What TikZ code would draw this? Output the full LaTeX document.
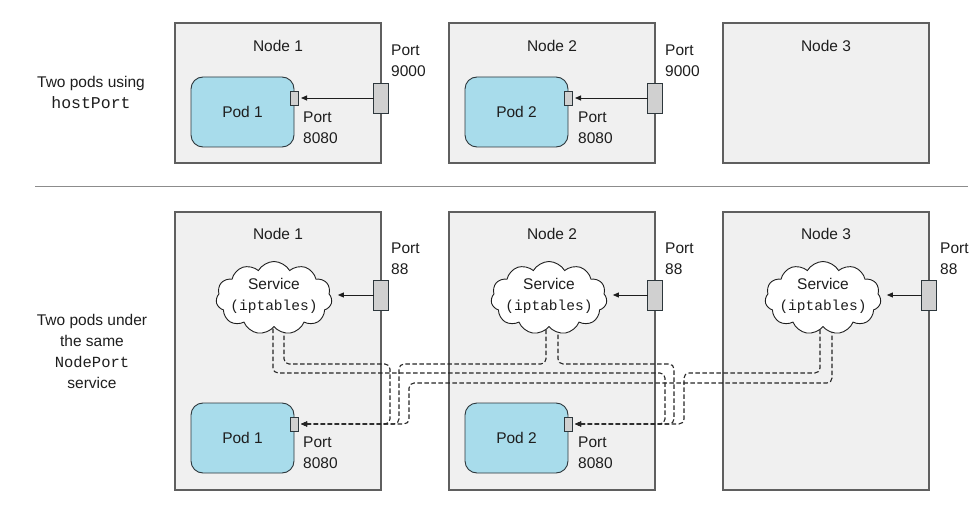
\documentclass[tikz,border=0pt]{standalone}
\usepackage{fontspec}
\setmainfont{Liberation Sans}
\setmonofont{Liberation Mono}
\usetikzlibrary{shapes.symbols,arrows.meta}
\definecolor{boxfill}{RGB}{240,240,240}
\definecolor{boxline}{RGB}{95,95,95}
\definecolor{podfill}{RGB}{168,220,235}
\definecolor{podline}{RGB}{45,55,60}
\definecolor{portfill}{RGB}{208,208,208}
\definecolor{ink}{RGB}{30,30,30}
\definecolor{rulegray}{RGB}{140,140,140}
\begin{document}
\begin{tikzpicture}[x=1pt,y=-1pt,
  every node/.style={text=ink},
  txt/.style={font=\fontsize{15.5}{21}\selectfont, inner sep=0pt, align=left},
  ctxt/.style={txt, align=center},
  nodebox/.style={draw=boxline, fill=boxfill, line width=1.1pt, inner sep=0pt, outer sep=0pt, minimum width=206pt, anchor=north west},
  topbox/.style={nodebox, minimum height=140pt},
  botbox/.style={nodebox, minimum height=278pt},
  pod/.style={draw=podline, fill=podfill, line width=0.9pt, rounded corners=12pt, minimum width=103pt, minimum height=70pt, inner sep=0pt, outer sep=0pt, anchor=north west, font=\fontsize{15.5}{21}\selectfont},
  podport/.style={draw=podline, fill=portfill, line width=0.8pt, minimum width=8pt, minimum height=14pt, inner sep=0pt, outer sep=0pt},
  hostport/.style={draw=podline, fill=portfill, line width=0.8pt, minimum width=15pt, minimum height=30pt, inner sep=0pt, outer sep=0pt},
  svc/.style={cloud, cloud puffs=11, cloud puff arc=120, cloud ignores aspect, draw=ink, fill=white, line width=0.9pt, minimum width=116pt, minimum height=73pt, inner sep=0pt},
  solidarrow/.style={draw=ink, line width=0.9pt, -{Triangle[length=6pt,width=5pt]}, shorten >=3pt},
  dashlink/.style={draw=black!85, line width=1.1pt, dash pattern=on 4.5pt off 2.5pt, rounded corners=5pt, {Triangle[length=6pt,width=5pt]}-, shorten <=3pt},
]
\useasboundingbox[fill=white] (0,0) rectangle (980,513);

% ---------- top row ----------
\node[topbox] (t1) at (175,23) {};
\node[topbox] (t2) at (449,23) {};
\node[topbox] (t3) at (723,23) {};
\node[txt] (t1l) at ([yshift=-23pt]t1.north) {Node 1};
\node[txt] (t2l) at ([yshift=-23pt]t2.north) {Node 2};
\node[txt] (t3l) at ([yshift=-23pt]t3.north) {Node 3};

\node[pod] (tp1) at (191,77) {Pod 1};
\node[pod] (tp2) at (465,77) {Pod 2};
\node[podport] (tpp1) at ([yshift=14pt]tp1.east) {};
\node[podport] (tpp2) at ([yshift=14pt]tp2.east) {};
\node[hostport] (th1) at (t1.east |- tpp1.center) {};
\node[hostport] (th2) at (t2.east |- tpp2.center) {};
\draw[solidarrow] (th1.west) -- (tpp1.east);
\draw[solidarrow] (th2.west) -- (tpp2.east);

\node[txt, anchor=north west] (th1l) at (391,44.5) {Port\\9000};
\node[txt, anchor=north west] (th2l) at (665,44.5) {Port\\9000};
\node[txt, anchor=north west] (tpp1l) at (303,111.5) {Port\\8080};
\node[txt, anchor=north west] (tpp2l) at (578,111.5) {Port\\8080};

\node[ctxt, anchor=north] (toplab) at (91,76.5) {Two pods using\\{\fontsize{16.5}{21}\selectfont\ttfamily hostPort}};

% ---------- divider ----------
\coordinate (dl) at (35,187);
\coordinate (dr) at (968,187);
\draw[rulegray, line width=1pt] (dl) -- (dr);

% ---------- bottom row ----------
\node[botbox] (b1) at (175,212) {};
\node[botbox] (b2) at (449,212) {};
\node[botbox] (b3) at (723,212) {};
\node[txt] (b1l) at ([yshift=-22pt]b1.north) {Node 1};
\node[txt] (b2l) at ([yshift=-22pt]b2.north) {Node 2};
\node[txt] (b3l) at ([yshift=-22pt]b3.north) {Node 3};

\node[pod] (bp1) at (191,403) {Pod 1};
\node[pod] (bp2) at (465,403) {Pod 2};
\node[podport] (bpp1) at ([yshift=14pt]bp1.east) {};
\node[podport] (bpp2) at ([yshift=14pt]bp2.east) {};

% service cloud positions
\coordinate (c1pos) at (274,298);
\coordinate (c2pos) at (549,298);
\coordinate (c3pos) at (823,298);

% dashed links to Pod 1
\draw[dashlink] (bpp1.east) -- (390,424) -- (390,364) -- (284,364) -- ([xshift=10pt]c1pos);
\draw[dashlink] (bpp1.east) -- (399,424) -- (399,364) -- (546,364) -- ([xshift=-3pt]c2pos);
\draw[dashlink] (bpp1.east) -- (409,424) -- (409,383) -- (832,383) -- ([xshift=9pt]c3pos);
% dashed links to Pod 2
\draw[dashlink] (bpp2.east) -- (665,424) -- (665,373) -- (273,373) -- ([xshift=-1pt]c1pos);
\draw[dashlink] (bpp2.east) -- (674,424) -- (674,364) -- (558,364) -- ([xshift=9pt]c2pos);
\draw[dashlink] (bpp2.east) -- (684,424) -- (684,373) -- (820,373) -- ([xshift=-3pt]c3pos);

\node[svc] (c1) at (c1pos) {};
\node[svc] (c2) at (c2pos) {};
\node[svc] (c3) at (c3pos) {};
\node[ctxt] (c1t) at ([yshift=2pt]c1.center) {Service\\{\fontsize{14.5}{21}\selectfont\ttfamily (iptables)}};
\node[ctxt] (c2t) at ([yshift=2pt]c2.center) {Service\\{\fontsize{14.5}{21}\selectfont\ttfamily (iptables)}};
\node[ctxt] (c3t) at ([yshift=2pt]c3.center) {Service\\{\fontsize{14.5}{21}\selectfont\ttfamily (iptables)}};

\node[hostport] (bh1) at (b1.east |- 0,295) {};
\node[hostport] (bh2) at (b2.east |- 0,295) {};
\node[hostport] (bh3) at (b3.east |- 0,295) {};
\draw[solidarrow, shorten >=6pt] (bh1.west) -- (bh1.west -| c1.east);
\draw[solidarrow, shorten >=6pt] (bh2.west) -- (bh2.west -| c2.east);
\draw[solidarrow, shorten >=6pt] (bh3.west) -- (bh3.west -| c3.east);

\node[txt, anchor=north west] (bh1l) at (391,242.5) {Port\\88};
\node[txt, anchor=north west] (bh2l) at (665,242.5) {Port\\88};
\node[txt, anchor=north west] (bh3l) at (940,242.5) {Port\\88};
\node[txt, anchor=north west] (bpp1l) at (303,437) {Port\\8080};
\node[txt, anchor=north west] (bpp2l) at (578,437) {Port\\8080};

\node[ctxt, anchor=north] (botlab) at (92,314.5) {Two pods under\\the same\\{\fontsize{15.5}{21}\selectfont\ttfamily NodePort}\\service};
\end{tikzpicture}
\end{document}
